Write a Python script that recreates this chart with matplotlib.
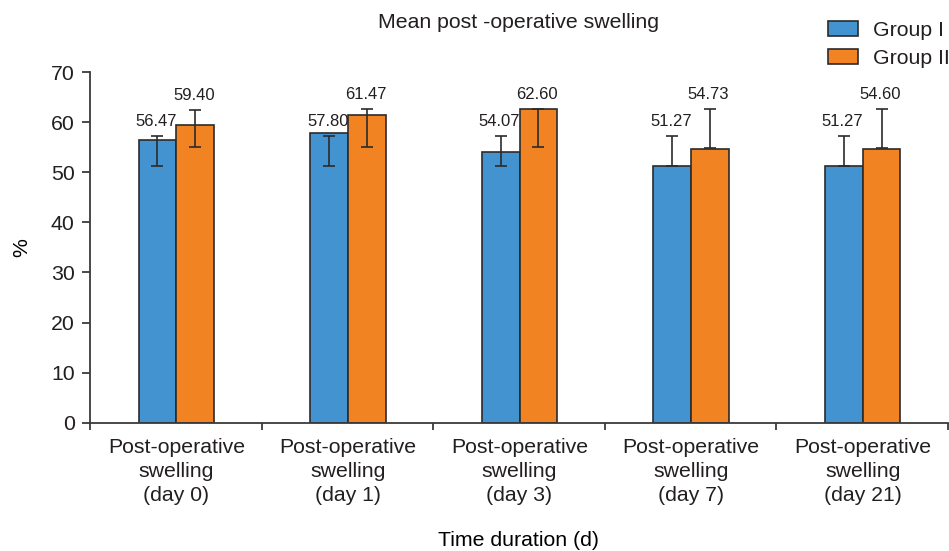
import numpy as np
import matplotlib
matplotlib.use('Agg')
import matplotlib.pyplot as plt
from matplotlib.patches import Patch

# values
categories = ['Post-operative\nswelling\n(day 0)', 'Post-operative\nswelling\n(day 1)',
              'Post-operative\nswelling\n(day 3)', 'Post-operative\nswelling\n(day 7)',
              'Post-operative\nswelling\n(day 21)']
group1 = [56.47, 57.80, 54.07, 51.27, 51.27]
group2 = [59.40, 61.47, 62.60, 54.73, 54.60]
# error bars are not symmetric about the means in the source, so keep both ends
group1_err_lo = [51.3, 51.3, 51.3, 51.3, 51.3]
group1_err_hi = [57.2, 57.3, 57.2, 57.2, 57.2]
group2_err_lo = [55.0, 55.0, 55.0, 54.9, 54.9]
group2_err_hi = [62.5, 62.6, 62.6, 62.6, 62.6]
yticks = [0, 10, 20, 30, 40, 50, 60, 70]

BLUE = '#4393d0'
ORANGE = '#f28322'
EDGE = '#2b2b2b'
TXT = '#231f20'
FS = 15.3


def main():
    plt.rcParams['font.family'] = ['Liberation Sans', 'DejaVu Sans']
    plt.rcParams['text.color'] = TXT
    fig = plt.figure(figsize=(9.49, 5.51), dpi=100)
    ax = fig.add_axes([90 / 949, 0.2328, 858 / 949, 0.6365])

    x = np.arange(len(categories)) + 0.503
    w = 0.22
    for vals, lo, hi, off, col in [(group1, group1_err_lo, group1_err_hi, -w / 2, BLUE),
                                   (group2, group2_err_lo, group2_err_hi, w / 2, ORANGE)]:
        xs = x + off
        ax.bar(xs, vals, w, color=col, edgecolor=EDGE, linewidth=1.2, zorder=2)
        mid = (np.array(lo) + np.array(hi)) / 2
        half = (np.array(hi) - np.array(lo)) / 2
        ax.errorbar(xs, mid, yerr=half, fmt='none', ecolor=EDGE, elinewidth=1.2,
                    capsize=4, capthick=1.2, zorder=3)
        for xi, v, h in zip(xs, vals, hi):
            ax.annotate(f'{v:.2f}', (xi, h), xytext=(-1, 5), textcoords='offset points',
                        ha='center', va='bottom', fontsize=12, color=TXT)

    ax.set_xlim(0, 5)
    ax.set_ylim(0, 70)
    ax.set_yticks(yticks)
    ax.set_xticks(x)
    ax.set_xticklabels(categories, fontsize=FS, linespacing=1.32)
    ax.set_xticks(np.arange(6), minor=True)
    ax.tick_params(axis='x', which='major', length=0, pad=11, colors=TXT)
    ax.tick_params(axis='x', which='minor', length=5, width=1.3, color='#3a3a3a')
    ax.tick_params(axis='y', length=6, width=1.3, pad=5, labelsize=FS,
                   color='#3a3a3a', labelcolor=TXT)
    for s in ['top', 'right']:
        ax.spines[s].set_visible(False)
    for s in ['left', 'bottom']:
        ax.spines[s].set_linewidth(1.3)
        ax.spines[s].set_color('#3a3a3a')

    ax.set_xlabel('Time duration (d)', fontsize=FS, labelpad=19)
    ax.set_ylabel('%', fontsize=FS, labelpad=14)
    ax.set_title('Mean post -operative swelling', fontsize=FS, pad=32)

    handles = [Patch(facecolor=BLUE, edgecolor=EDGE, linewidth=1.2),
               Patch(facecolor=ORANGE, edgecolor=EDGE, linewidth=1.2)]
    fig.legend(handles, ['Group I', 'Group II'], loc='upper right',
               bbox_to_anchor=(1.008, 0.974), frameon=False, fontsize=FS,
               handlelength=1.4, handleheight=0.72, handletextpad=0.75,
               labelspacing=0.42, borderaxespad=0.0, borderpad=0.3)

    fig.savefig('out.png', dpi=100)
    plt.close(fig)


if __name__ == '__main__':
    main()
